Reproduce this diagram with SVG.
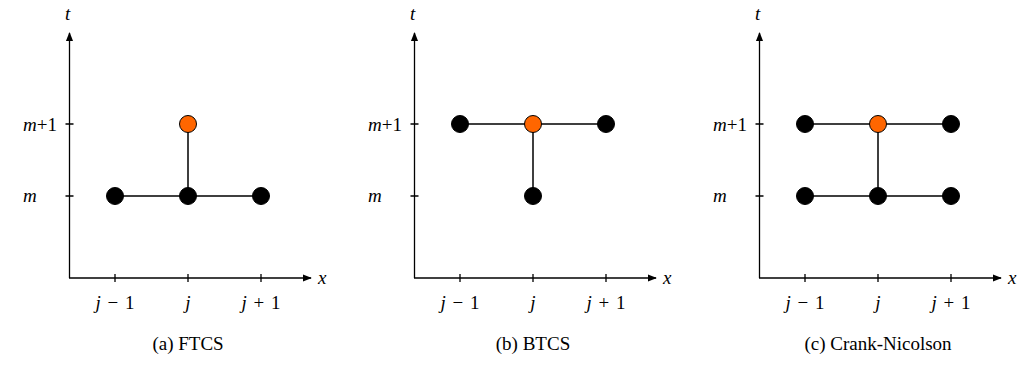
<svg xmlns="http://www.w3.org/2000/svg" width="1017" height="372" viewBox="0 0 1017 372">
<style>
.ax{stroke:#000;stroke-width:1.3;fill:none}
.tk{stroke:#000;stroke-width:1.3}
.ln{stroke:#000;stroke-width:1.5;fill:none}
.nb{fill:#000;stroke:#000;stroke-width:1}
.no{fill:#ff6600;stroke:#000;stroke-width:1}
.m{font-family:"Liberation Serif",serif;font-style:italic;font-size:19px;fill:#000}
.r{font-family:"Liberation Serif",serif;font-size:19px;fill:#000}
.c{font-family:"Liberation Serif",serif;font-size:19px;fill:#000;text-anchor:middle}
</style>
<defs>
<marker id="ar" viewBox="0 0 10 10" refX="9" refY="5" markerWidth="9" markerHeight="9" markerUnits="userSpaceOnUse" orient="auto">
<path d="M0,1 L10,5 L0,9 Z" fill="#000"/>
</marker>
<g id="axes">
<path class="ax" d="M69.5,278 V33" marker-end="url(#ar)"/>
<path class="ax" d="M69,278 H311" marker-end="url(#ar)"/>
<path class="tk" d="M115,274 V282 M188,274 V282 M261,274 V282 M65.5,124 H73.5 M65.5,196 H73.5"/>
<text class="m" x="65" y="20">t</text>
<text class="m" x="318" y="284">x</text>
<text class="m" x="23" y="131">m<tspan class="r" font-style="normal">+1</tspan></text>
<text class="m" x="23" y="202">m</text>
<text class="c" x="115" y="309" word-spacing="2"><tspan font-style="italic">j</tspan> − 1</text>
<text class="c" x="188" y="309" font-style="italic">j</text>
<text class="c" x="261" y="309" word-spacing="2"><tspan font-style="italic">j</tspan> + 1</text>
</g>
</defs>
<g id="panel-a">
<use href="#axes"/>
<text class="c" x="188" y="350">(a) FTCS</text>
</g>
<g id="panel-b" transform="translate(345,0)">
<use href="#axes"/>
<text class="c" x="188" y="350">(b) BTCS</text>
</g>
<g id="panel-c" transform="translate(690,0)">
<use href="#axes"/>
<text class="c" x="188" y="350">(c) Crank-Nicolson</text>
</g>
<g id="connectors">
<path class="ln" d="M115,196 H261 M188,196 V124"/>
<path class="ln" d="M460,124 H606 M533,124 V196"/>
<path class="ln" d="M805,124 H951 M805,196 H951 M878,124 V196"/>
</g>
<g id="node-a-jm1-m"><circle class="nb" cx="115" cy="196" r="8.5"/></g>
<g id="node-a-j-m"><circle class="nb" cx="188" cy="196" r="8.5"/></g>
<g id="node-a-jp1-m"><circle class="nb" cx="261" cy="196" r="8.5"/></g>
<g id="node-a-j-m1"><circle class="no" cx="188" cy="124" r="8.5"/></g>
<g id="node-b-jm1-m1"><circle class="nb" cx="460" cy="124" r="8.5"/></g>
<g id="node-b-j-m1"><circle class="no" cx="533" cy="124" r="8.5"/></g>
<g id="node-b-jp1-m1"><circle class="nb" cx="606" cy="124" r="8.5"/></g>
<g id="node-b-j-m"><circle class="nb" cx="533" cy="196" r="8.5"/></g>
<g id="node-c-jm1-m1"><circle class="nb" cx="805" cy="124" r="8.5"/></g>
<g id="node-c-j-m1"><circle class="no" cx="878" cy="124" r="8.5"/></g>
<g id="node-c-jp1-m1"><circle class="nb" cx="951" cy="124" r="8.5"/></g>
<g id="node-c-jm1-m"><circle class="nb" cx="805" cy="196" r="8.5"/></g>
<g id="node-c-j-m"><circle class="nb" cx="878" cy="196" r="8.5"/></g>
<g id="node-c-jp1-m"><circle class="nb" cx="951" cy="196" r="8.5"/></g>
</svg>
